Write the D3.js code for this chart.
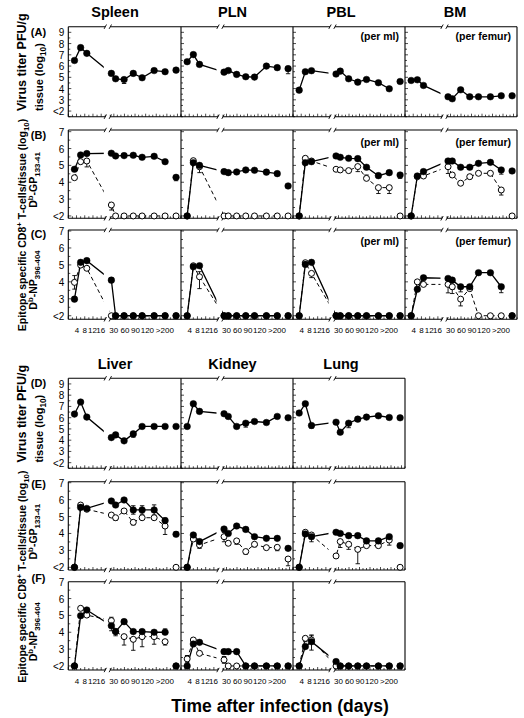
<!DOCTYPE html>
<html><head><meta charset="utf-8">
<script src="https://cdn.jsdelivr.net/npm/d3@7"></script>
<style>
body{margin:0;background:#fff}
svg{display:block}
text{font-family:"Liberation Sans",Arial,Helvetica,sans-serif;fill:#000}
</style>
</head><body>
<svg id="chart" width="524" height="718"></svg>
<script>
// ---------------- DATA ----------------
const topTissues = ["Spleen", "PLN", "PBL", "BM"];
const bottomTissues = ["Liver", "Kidney", "Lung"];
const earlyDays = [3, 6, 9];
const lateDays = [23, 35, 59, 85, 110, 144, 175];
const sepDay = 206;                       // ">200" point, not connected
const earlyTicks = [4, 8, 12, 16];
const earlyTickLabels = ["4", "8", "12", "16"];
const lateTicks = [30, 60, 90, 120, 170];
const lateTickLabels = ["30", "60", "90", "120", ">200"];
const virusTicks = [2, 3, 4, 5, 6, 7, 8, 9];
const virusTickLabels = ["<2", "3", "4", "5", "6", "7", "8", "9"];
const cellTicks = [2, 3, 4, 5, 6, 7];
const cellTickLabels = ["<2", "3", "4", "5", "6", "7"];

// each series: 3 early days, 7 late days, 1 ">200" value ; errors: [index, signed length]
// Row A: virus titer
const spleenPFU = [6.5, 7.64, 7.13, 5.35, 4.87, 4.8, 5.35, 4.96, 5.6, 5.5, 5.64];
const spleenPFUErr = [[5, -0.35], [6, 0.15]];
const plnPFU = [6.39, 7.02, 6.15, 5.46, 5.6, 5.26, 5.05, 5.02, 6.0, 5.86, 5.77];
const plnPFUErr = [[10, -0.45]];
const pblPFU = [3.86, 5.5, 5.59, 5.29, 5.55, 4.87, 4.57, 4.81, 4.52, 3.98, 4.63];
const pblPFUErr = [];
const bmPFU = [4.72, 4.78, 4.28, 3.27, 3.09, 3.89, 3.27, 3.27, 3.27, 3.36, 3.36];
const bmPFUErr = [];
// Row B: Db-GP33-41 (filled / open)
const spleenGPf = [4.77, 5.62, 5.70, 5.72, 5.56, 5.58, 5.60, 5.48, 5.54, 5.22, 4.29];
const spleenGPfErr = [[10, -0.2]];
const spleenGPo = [4.27, 5.22, 5.26, 2.65, 2, 2, 2, 2, 2, 2, 2];
const spleenGPoErr = [[2, -0.35], [3, -0.3]];
const plnGPf = [2, 5.16, 5.0, 4.63, 4.57, 4.61, 4.73, 4.71, 4.6, 4.51, 3.78];
const plnGPfErr = [];
const plnGPo = [2, 5.28, 4.92, 2, 2, 2, 2, 2, 2, 2, 2];
const plnGPoErr = [[2, -0.35]];
const pblGPf = [2, 5.16, 5.22, 5.56, 5.48, 5.42, 5.4, 4.89, 4.39, 4.57, 4.43];
const pblGPfErr = [[10, -0.2]];
const pblGPo = [2, 5.42, 5.26, 4.77, 4.73, 4.69, 4.93, 4.23, 3.68, 3.68, 2];
const pblGPoErr = [[6, -0.3], [7, 0.2], [8, -0.35], [9, -0.35]];
const bmGPf = [2, 4.37, 4.63, 5.26, 5.26, 4.89, 4.89, 5.12, 5.18, 4.73, 4.67];
const bmGPfErr = [[9, -0.25]];
const bmGPo = [2, 4.33, 4.37, 4.92, 4.43, 3.94, 4.33, 4.53, 4.53, 3.54, 2];
const bmGPoErr = [[3, -0.4], [9, -0.3]];
// Row C: Db-NP396-404
const spleenNPf = [2.98, 5.15, 5.25, 4.1, 2, 2, 2, 2, 2, 2, 2];
const spleenNPfErr = [[3, 0.12]];
const spleenNPo = [3.97, 4.99, 4.8, 2, 2, 2, 2, 2, 2, 2, 2];
const spleenNPoErr = [[0, 0.4], [0, -0.4]];
const plnNPf = [2, 4.89, 4.95, 2, 2, 2, 2, 2, 2, 2, 2];
const plnNPfErr = [];
const plnNPo = [2, 4.95, 4.3, 2, 2, 2, 2, 2, 2, 2, 2];
const plnNPoErr = [[2, -0.7], [2, 0.3]];
const pblNPf = [2, 5.03, 5.15, 2, 2, 2, 2, 2, 2, 2, 2];
const pblNPfErr = [];
const pblNPo = [2, 5.13, 4.5, 2, 2, 2, 2, 2, 2, 2, 2];
const pblNPoErr = [[2, -0.25]];
const bmNPf = [2, 3.56, 4.24, 4.2, 4.1, 3.71, 3.71, 4.54, 4.54, 3.71, 2];
const bmNPfErr = [[5, -0.3], [9, -0.35]];
const bmNPo = [2, 4.0, 3.85, 3.85, 3.71, 2.98, 3.6, 2, 2, 2, 2];
const bmNPoErr = [[3, -0.5], [4, -0.4], [5, -0.4]];
// Row D: virus titer
const liverPFU = [6.32, 7.39, 6.05, 4.23, 4.47, 3.94, 4.56, 5.22, 5.22, 5.22, 5.22];
const liverPFUErr = [[6, -0.3]];
const kidneyPFU = [5.22, 7.24, 6.56, 6.35, 6.11, 5.22, 5.51, 5.66, 5.57, 6.11, 5.99];
const kidneyPFUErr = [[4, -0.2], [6, -0.35]];
const lungPFU = [6.41, 7.24, 5.31, 5.6, 4.71, 5.51, 5.87, 6.05, 6.17, 6.02, 5.99];
const lungPFUErr = [[2, -0.25], [5, -0.4], [6, -0.2]];
// Row E: Db-GP33-41
const liverGPf = [2, 5.54, 5.48, 5.92, 5.68, 5.98, 5.39, 5.39, 5.39, 4.76, 3.95];
const liverGPfErr = [[6, 0.25], [6, -0.25], [7, 0.25], [7, -0.25], [8, 0.3], [8, -0.3], [9, 0.15], [10, 0.15]];
const liverGPo = [2, 5.68, 5.43, 5.09, 4.93, 5.33, 4.66, 4.93, 4.93, 4.44, 2];
const liverGPoErr = [[4, -0.15], [6, -0.15], [9, -0.5]];
const kidneyGPf = [2, 3.91, 3.52, 4.26, 4.0, 4.44, 4.24, 3.81, 3.71, 3.71, 3.12];
const kidneyGPfErr = [];
const kidneyGPo = [2, 3.67, 3.32, 3.81, 3.42, 3.56, 2.93, 3.36, 3.16, 3.18, 2.49];
const kidneyGPoErr = [[2, -0.2], [3, 0.25], [3, -0.3], [5, -0.2], [6, -0.15], [7, -0.15], [9, -0.2], [10, -0.4]];
const lungGPf = [2, 3.97, 3.81, 4.07, 4.0, 3.87, 3.87, 3.56, 3.56, 3.81, 3.28];
const lungGPfErr = [];
const lungGPo = [2, 4.07, 3.91, 2.67, 3.52, 3.36, 3.06, 3.28, 3.28, 3.61, 2];
const lungGPoErr = [[2, -0.4], [4, -0.35], [5, -0.3], [6, -0.85], [9, -0.3]];
// Row F: Db-NP396-404
const liverNPf = [2, 4.98, 5.32, 4.39, 4.04, 4.63, 4.04, 4.04, 4.0, 4.0, 2];
const liverNPfErr = [[3, 0.3], [3, -0.3], [9, 0.2]];
const liverNPo = [2, 5.42, 5.02, 4.69, 4.04, 3.74, 3.58, 3.74, 3.74, 3.44, 2];
const liverNPoErr = [[3, 0.2], [4, -0.25], [5, -0.5], [6, -0.65], [7, -0.6], [8, -0.45], [9, -0.2]];
const kidneyNPf = [2, 3.3, 3.4, 2.85, 2.85, 2.85, 2, 2, 2, 2, 2];
const kidneyNPfErr = [];
const kidneyNPo = [2.42, 3.54, 2.75, 2.36, 2, 2, 2, 2, 2, 2, 2];
const kidneyNPoErr = [[0, 0.2], [0, -0.2], [3, 0.2], [3, -0.2]];
const lungNPf = [2, 3.15, 3.44, 2.26, 2, 2, 2, 2, 2, 2, 2];
const lungNPfErr = [[2, 0.4], [2, -0.5]];
const lungNPo = [2, 3.64, 3.54, 2, 2, 2, 2, 2, 2, 2, 2];
const lungNPoErr = [[1, -0.2], [2, 0.25]];

// ---------------- LAYOUT ----------------
const svg = d3.select("#chart");
const colEdges = [68.3, 181, 293, 405, 517];
const EARLY_W = 37, LATE_OFF = 42;
const TICK_FONT = "Liberation Sans Narrow, Arial Narrow, Liberation Sans, Arial, sans-serif";
const geom = {
  A: {top: 26.7, bottom: 116.7, dom: [1.5, 9.5], virus: true},
  B: {top: 130, bottom: 218.3, dom: [1.86, 7.1]},
  C: {top: 230, bottom: 319.3, dom: [1.79, 7.06]},
  D: {top: 378.3, bottom: 468.3, dom: [1.5, 9.5], virus: true},
  E: {top: 481.7, bottom: 570, dom: [1.84, 7.06]},
  F: {top: 581.7, bottom: 670, dom: [1.76, 7.0]}
};
const allDays = earlyDays.concat(lateDays).concat([sepDay]);
let clipCount = 0;

function panel(col, lastCol, g, filled, fErr, open, oErr, opt) {
  const x0 = colEdges[col], x1 = colEdges[col + 1];
  const xe = d3.scaleLinear().domain([0, 18]).range([x0, x0 + EARLY_W]);
  const xl = d3.scaleLinear().domain([20, 220]).range([x0 + LATE_OFF, x1]);
  const X = d => d <= 18 ? xe(d) : xl(d);
  const y = d3.scaleLinear().domain(g.dom).range([g.bottom, g.top]);
  const G = svg.append("g");
  const ln = (a, b, c, d, w) => G.append("line").attr("x1", a).attr("y1", b).attr("x2", c).attr("y2", d)
      .attr("stroke", "#000").attr("stroke-width", w || 1);
  // frame
  ln(x0, g.top, x0, g.bottom, 1.1);
  if (lastCol) ln(x1, g.top, x1, g.bottom, 1.1);
  const segs = [[x0, x0 + EARLY_W], [x0 + LATE_OFF, x1]];
  segs.forEach(([a, b], si) => {
    [g.top, g.bottom].forEach(yy => {
      ln(a, yy, b, yy, 1.1);
      if (si === 0) ln(b - 1.2, yy + 2.2, b + 1.2, yy - 2.2, 0.9);
      if (si === 1) ln(a - 1.2, yy + 2.2, a + 1.2, yy - 2.2, 0.9);
    });
  });
  // x ticks (upward, inside)
  d3.range(0, 19, 2).forEach(d => ln(xe(d), g.bottom, xe(d), g.bottom - (d % 4 === 0 ? 3 : 2), 0.7));
  d3.range(20, 221, 10).forEach(d => ln(xl(d), g.bottom, xl(d), g.bottom - (d % 30 === 0 ? 3 : 2), 0.7));
  // y ticks on left line (inward)
  d3.range(Math.ceil(g.dom[0] * 2) / 2, g.dom[1], 0.5).forEach(v =>
    ln(x0, y(v), x0 + (v % 1 === 0 ? 3 : 2), y(v), 0.7));

  // y tick labels (first column only)
  if (col === 0) {
    const ya = d3.axisLeft(y)
      .tickValues(g.virus ? virusTicks : cellTicks)
      .tickFormat((d, i) => (g.virus ? virusTickLabels : cellTickLabels)[i])
      .tickSize(0).tickPadding(4);
    const ag = svg.append("g").attr("transform", `translate(${x0},0)`).call(ya);
    ag.select(".domain").remove();
    ag.selectAll("text").attr("font-size", 10).attr("font-family", "Liberation Sans, Arial, sans-serif").attr("dy", "0.35em");
  }
  // x tick labels (bottom rows)
  if (opt.xlabels) {
    const ea = d3.axisBottom(xe).tickValues(earlyTicks)
      .tickFormat((d, i) => earlyTickLabels[i]).tickSize(0).tickPadding(8);
    const eg = svg.append("g").attr("transform", `translate(0,${g.bottom})`).call(ea);
    eg.select(".domain").remove();
    eg.selectAll("text").attr("font-size", 8).attr("font-family", TICK_FONT)
      .attr("dx", (d, i) => i === 1 ? -0.4 : i === 3 ? -0.9 : (i === 2 ? -0.9 : 0));
    const la = d3.axisBottom(xl).tickValues(lateTicks)
      .tickFormat((d, i) => lateTickLabels[i]).tickSize(0).tickPadding(8);
    const lg = svg.append("g").attr("transform", `translate(0,${g.bottom})`).call(la);
    lg.select(".domain").remove();
    lg.selectAll("text").attr("font-size", 8).attr("font-family", TICK_FONT)
      .attr("dx", (d, i) => i === 0 ? -0.6 : i === 3 ? 1.2 : i === 4 ? 1.0 : 0);
  }
  // clip for lines (break gap)
  const cid = "clip" + (clipCount++);
  const cp = svg.append("clipPath").attr("id", cid);
  cp.append("rect").attr("x", x0 - 6).attr("y", g.top - 12).attr("width", EARLY_W - 1.5 + 6).attr("height", g.bottom - g.top + 24);
  cp.append("rect").attr("x", x0 + LATE_OFF - 1).attr("y", g.top - 12).attr("width", x1 - x0 - LATE_OFF + 7).attr("height", g.bottom - g.top + 24);

  const toPts = arr => arr.map((v, i) => ({day: allDays[i], v, i}));
  const line = d3.line().x(d => X(d.day)).y(d => y(d.v));
  const drawSeries = (arr, errs, isOpen) => {
    if (!arr) return;
    const pts = toPts(arr);
    G.append("path").attr("d", line(pts.slice(0, 10)))
      .attr("clip-path", `url(#${cid})`)
      .attr("fill", "none").attr("stroke", "#000")
      .attr("stroke-width", isOpen ? 1 : 1.3)
      .attr("stroke-dasharray", isOpen ? "4,3" : null);
    (errs || []).forEach(([i, e]) => {
      const xx = X(allDays[i]), ya = y(arr[i]), yb = y(arr[i] + e);
      ln(xx, ya, xx, yb, 0.9);
      ln(xx - 2.2, yb, xx + 2.2, yb, 0.9);
    });
  };
  const drawMarks = (arr, isOpen) => {
    if (!arr) return;
    G.selectAll(null).data(toPts(arr)).enter().append("circle")
      .attr("cx", d => X(d.day)).attr("cy", d => y(d.v))
      .attr("r", isOpen ? 3.0 : 3.3)
      .attr("fill", isOpen ? "#fff" : "#000")
      .attr("stroke", "#000").attr("stroke-width", isOpen ? 1 : 0.5);
  };
  drawSeries(open, oErr, true);
  drawSeries(filled, fErr, false);
  drawMarks(open, true);
  drawMarks(filled, false);
  if (opt.note) {
    svg.append("text").attr("x", x1 - 6).attr("y", g.top + opt.noteDy)
      .attr("text-anchor", "end").attr("font-size", 10.5).attr("font-weight", "bold").text(opt.note);
  }
}

// top section
const topPFU = [[spleenPFU, spleenPFUErr], [plnPFU, plnPFUErr], [pblPFU, pblPFUErr], [bmPFU, bmPFUErr]];
const topGP = [[spleenGPf, spleenGPfErr, spleenGPo, spleenGPoErr], [plnGPf, plnGPfErr, plnGPo, plnGPoErr],
               [pblGPf, pblGPfErr, pblGPo, pblGPoErr], [bmGPf, bmGPfErr, bmGPo, bmGPoErr]];
const topNP = [[spleenNPf, spleenNPfErr, spleenNPo, spleenNPoErr], [plnNPf, plnNPfErr, plnNPo, plnNPoErr],
               [pblNPf, pblNPfErr, pblNPo, pblNPoErr], [bmNPf, bmNPfErr, bmNPo, bmNPoErr]];
const notes = [null, null, "(per ml)", "(per femur)"];
topTissues.forEach((t, c) => {
  const last = c === topTissues.length - 1;
  panel(c, last, geom.A, topPFU[c][0], topPFU[c][1], null, null, {note: notes[c], noteDy: 13});
  panel(c, last, geom.B, topGP[c][0], topGP[c][1], topGP[c][2], topGP[c][3], {note: notes[c], noteDy: 16});
  panel(c, last, geom.C, topNP[c][0], topNP[c][1], topNP[c][2], topNP[c][3], {note: notes[c], noteDy: 15, xlabels: true});
});
const botPFU = [[liverPFU, liverPFUErr], [kidneyPFU, kidneyPFUErr], [lungPFU, lungPFUErr]];
const botGP = [[liverGPf, liverGPfErr, liverGPo, liverGPoErr], [kidneyGPf, kidneyGPfErr, kidneyGPo, kidneyGPoErr],
               [lungGPf, lungGPfErr, lungGPo, lungGPoErr]];
const botNP = [[liverNPf, liverNPfErr, liverNPo, liverNPoErr], [kidneyNPf, kidneyNPfErr, kidneyNPo, kidneyNPoErr],
               [lungNPf, lungNPfErr, lungNPo, lungNPoErr]];
bottomTissues.forEach((t, c) => {
  const last = c === bottomTissues.length - 1;
  panel(c, last, geom.D, botPFU[c][0], botPFU[c][1], null, null, {});
  panel(c, last, geom.E, botGP[c][0], botGP[c][1], botGP[c][2], botGP[c][3], {});
  panel(c, last, geom.F, botNP[c][0], botNP[c][1], botNP[c][2], botNP[c][3], {xlabels: true});
});

// ---------------- TEXT ----------------
const titleX = [115, 232.5, 341, 455];
topTissues.forEach((t, i) => svg.append("text").attr("x", titleX[i]).attr("y", 17)
  .attr("text-anchor", "middle").attr("font-size", 14.5).attr("font-weight", "bold").text(t));
bottomTissues.forEach((t, i) => svg.append("text").attr("x", titleX[i]).attr("y", 368.5)
  .attr("text-anchor", "middle").attr("font-size", 14.5).attr("font-weight", "bold").text(t));

const letters = [["(A)", 36], ["(B)", 139], ["(C)", 237.5], ["(D)", 387], ["(E)", 488], ["(F)", 582]];
letters.forEach(([s, yy]) => svg.append("text").attr("x", 38.5).attr("y", yy).attr("text-anchor", "middle")
  .attr("font-size", 11).attr("font-weight", "bold").text(s));

function rich(x, yy, anchor, size, parts) {
  const t = svg.append("text").attr("transform", `translate(${x},${yy}) rotate(-90)`)
    .attr("text-anchor", anchor).attr("font-size", size).attr("font-weight", "bold");
  let shift = 0;
  parts.forEach(([s, kind]) => {
    const target = kind === "sub" ? 3 : kind === "sup" ? -4.5 : 0;
    const sp = t.append("tspan").attr("dy", target - shift).text(s);
    if (kind !== "n") sp.attr("font-size", size * 0.75);
    shift = target;
  });
}
[0, 351.6].forEach(off => {
  rich(26, 111 + off, "start", 12.5, [["Virus titer PFU/g", "n"]]);
  rich(43, 111 + off, "start", 11, [["tissue (log", "n"], ["10", "sub"], [")", "n"]]);
});
[0, 351.7].forEach(off => {
  rich(26, 225 + off, "middle", 10.5, [["Epitope specific CD8", "n"], ["+", "sup"], [" T-cells/tissue (log", "n"], ["10", "sub"], [")", "n"]]);
  rich(37, 180 + off, "middle", 10.5, [["D", "n"], ["b", "sup"], ["-GP", "n"], ["133-41", "sub"]]);
  rich(37, 280 + off, "middle", 10.5, [["D", "n"], ["b", "sup"], ["-NP", "n"], ["396-404", "sub"]]);
});

svg.append("text").attr("x", 280).attr("y", 712).attr("text-anchor", "middle")
  .attr("font-size", 17.5).attr("font-weight", "bold").text("Time after infection (days)");
</script>
</body></html>
